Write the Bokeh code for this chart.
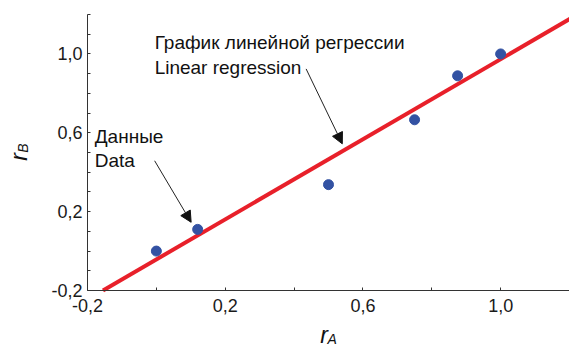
import math
import numpy as np
from bokeh.plotting import figure
from bokeh.models import FixedTicker, CustomJSTickFormatter, Label, Arrow, NormalHead, Range1d
from bokeh.embed import file_html
from bokeh.resources import INLINE

# data
r_a = [0.0, 0.12, 0.5, 0.75, 0.875, 1.0]
r_b = [0.0, 0.11, 0.337, 0.666, 0.889, 1.0]

# regression line
reg_slope = 1.016
reg_intercept = -0.0425

x_major = [-0.2, 0.2, 0.6, 1.0]
x_minor = [0.0, 0.4, 0.8]
y_major = [-0.2, 0.2, 0.6, 1.0]
y_minor = [-0.1, 0.0, 0.1, 0.3, 0.4, 0.5, 0.7, 0.8, 0.9, 1.1, 1.2]

FONT = "Liberation Sans"

# frame covers the whole canvas; axes are pinned at -0.2 so labels outside the data box stay visible
W, H = 569, 347
LEFT, TOP, BOTTOM = 87, 14, 57
x_lo, x_hi = -0.2, 1.2
y_lo, y_hi = -0.2, 1.2
sx = (W - LEFT) / (x_hi - x_lo)
sy = (H - TOP - BOTTOM) / (y_hi - y_lo)

p = figure(width=W, height=H, output_backend="svg", toolbar_location=None,
           x_range=Range1d(x_lo - LEFT / sx, x_hi),
           y_range=Range1d(y_lo - BOTTOM / sy, y_hi + TOP / sy),
           min_border=0)
p.outline_line_color = None
p.grid.visible = False
p.background_fill_color = "white"
p.border_fill_color = "white"

fmt = CustomJSTickFormatter(code="return tick.toFixed(1).replace('.', ',');")

for ax, major, minor in ((p.xaxis[0], x_major, x_minor), (p.yaxis[0], y_major, y_minor)):
    ax.fixed_location = -0.2
    ax.bounds = (-0.2, 1.2)
    ax.ticker = FixedTicker(ticks=major, minor_ticks=minor)
    ax.formatter = fmt
    ax.axis_line_color = "#333333"
    ax.axis_line_width = 1
    ax.major_tick_in = 3
    ax.major_tick_out = 0
    ax.minor_tick_in = 3
    ax.minor_tick_out = 0
    ax.major_tick_line_color = "#333333"
    ax.minor_tick_line_color = "#333333"
    ax.major_label_text_font = FONT
    ax.major_label_text_font_size = "18px"
    ax.major_label_text_color = "#1a1a1a"

p.xaxis[0].major_label_standoff = 8
p.yaxis[0].major_label_standoff = 5

# regression line, starting where it meets the x axis
lx = np.array([(y_lo - reg_intercept) / reg_slope, 1.25])
p.line(lx, reg_slope * lx + reg_intercept, line_color="#E8202A", line_width=4)

# data points
p.scatter(r_a, r_b, size=10, fill_color="#3352A3", line_color="#3352A3")

# annotation texts
def txt(x, y, s, size="19px", italic=False, angle=0.0):
    lab = Label(x=x, y=y, text=s, text_font=FONT, text_font_size=size,
                text_color="#111111", text_align="left", text_baseline="alphabetic",
                angle=angle, text_font_style="italic" if italic else "normal")
    p.add_layout(lab)

txt(-0.005, 1.056, "График линейной регрессии")
txt(-0.005, 0.929, "Linear regression")
txt(-0.179, 0.580, "Данные")
txt(-0.179, 0.458, "Data")

# axis labels
txt(0.476, -0.428, "r", size="23px", italic=True)
txt(0.497, -0.446, "A", size="14px", italic=True)
txt(-0.400, 0.458, "r", size="23px", italic=True, angle=math.pi / 2)
txt(-0.387, 0.499, "B", size="14px", italic=True, angle=math.pi / 2)

# arrows
for (x0, y0, x1, y1) in ((0.435, 0.924, 0.54, 0.544), (-0.005, 0.458, 0.101, 0.146)):
    p.add_layout(Arrow(x_start=x0, y_start=y0, x_end=x1, y_end=y1,
                       line_color="#222222", line_width=1,
                       end=NormalHead(size=11, fill_color="#111111", line_color="#111111")))

open("out.html", "w").write(file_html(p, INLINE))
